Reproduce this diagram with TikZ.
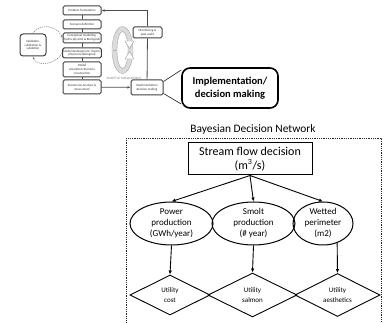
\documentclass[tikz,border=0pt]{standalone}
\usepackage{fontspec}
\setmainfont{Carlito}
\usetikzlibrary{shapes.geometric,arrows.meta,calc}

\begin{document}
\begin{tikzpicture}[x=1pt,y=-1pt,
  fbox/.style={draw=black!75, line width=1pt, rounded corners=1.5pt, fill=white,
    align=center, font=\fontsize{3.2}{3.7}\selectfont, inner sep=0.5pt, text=black!80},
  flink/.style={draw=black!70, line width=0.8pt},
  farrow/.style={flink, -{Latex[length=3pt,width=2.5pt]}},
  dashlink/.style={draw=black!55, line width=0.5pt, dashed, dash pattern=on 1.2pt off 1pt,
    -{Latex[length=2.5pt,width=2pt]}},
  bigbox/.style={draw=black, line width=1.6pt, rounded corners=8pt, align=center,
    font=\fontsize{10.5}{12.5}\selectfont\bfseries},
  netarrow/.style={draw=black, line width=0.9pt, -{Latex[length=4pt,width=3.5pt]}},
  chance/.style={ellipse, draw=black, line width=1pt, align=center, inner sep=0pt,
    font=\fontsize{9}{11}\selectfont},
  utility/.style={diamond, draw=black, line width=0.9pt, align=center, inner sep=0pt,
    font=\fontsize{7}{9.5}\selectfont}]
\useasboundingbox (0,0) rectangle (386,323);

% --- adaptive management cycle ---
\node[fbox, minimum width=38pt, minimum height=9pt]  (prob)     at (82,10.5) {Problem formulation};
\node[fbox, minimum width=38pt, minimum height=9pt]  (scen)     at (82,24.5) {Scenario definition};
\node[fbox, minimum width=38pt, minimum height=10pt] (concept)  at (82,38)   {Conceptual modelling:\\(hydro-physical \& Biological)};
\node[fbox, minimum width=38pt, minimum height=10pt] (modeldev) at (82,53)   {Model development: (hydro-\\physical \& Biological)};
\node[fbox, minimum width=38pt, minimum height=15pt] (modelsim) at (82,69.5) {Model\\simulation/Scenario\\construction};
\node[fbox, minimum width=38pt, minimum height=14pt] (analysis) at (82,87)   {Scenario(s) Analysis \&\\Assessment};
\node[fbox, minimum width=26pt, minimum height=22pt, rounded corners=3pt] (valid) at (33,45) {Validation,\\calibration \&\\validation};
\node[fbox, minimum width=29pt, minimum height=11pt] (monitor)  at (147.5,32.5) {Monitoring \&\\post-audit};
\node[fbox, minimum width=32pt, minimum height=15pt] (impls)    at (147,87.5) {Implementation/\\decision making};

\draw[flink] (prob) -- (scen);
\draw[flink] (scen) -- (concept);
\draw[flink] (concept) -- (modeldev);
\draw[flink] (modeldev) -- (modelsim);
\draw[flink] (modelsim) -- (analysis);
\draw[farrow] (analysis) -- (impls);
\draw[flink] (impls) -- (monitor);
\draw[farrow] (monitor.north) |- (prob.east);

% validation loop
\draw[dashlink] (valid.north) .. controls (38,24) and (56,24) .. (concept.west);
\draw[dashlink] (modeldev.west) .. controls (55,66) and (36,66) .. (valid.south);

% circular arrow of the management loop
\coordinate (ring) at (122.5,50);
\draw[black!14, line width=4.5pt] (ring) ellipse [x radius=8pt, y radius=21pt];
\draw[black!38, line width=0.35pt] (ring) ellipse [x radius=10.5pt, y radius=23.5pt];
\draw[black!38, line width=0.35pt] (ring) ellipse [x radius=5.5pt, y radius=18.5pt];
\draw[black!30, line width=0.3pt] (113,50) -- (117,50);
\fill[white, draw=black!40, line width=0.35pt] (125,41) -- (134,41) -- (129.5,48.5) -- cycle;
\fill[white, draw=black!40, line width=0.35pt] (125,59) -- (134,59) -- (129.5,51.5) -- cycle;
\node[font=\fontsize{3.3}{4}\selectfont, text=black!50] (amlabel) at (124,78.5) {ADAPTIVE MANAGEMENT};

% magnified stage
\node[bigbox, minimum width=96pt, minimum height=40pt] (implb) at (230,88) {Implementation/\\decision making};
\draw[black!80, line width=0.7pt] ($(impls.east)+(0,-6)$) -- ($(implb.west)+(0,-18)$);
\draw[black!80, line width=0.7pt] ($(impls.east)+(0,6)$) -- ($(implb.west)+(0,16)$);

% --- Bayesian decision network ---
\node[font=\fontsize{11.4}{13}\selectfont] (bdntitle) at (253,129.5) {Bayesian Decision Network};
\draw[black!85, line width=0.8pt, dash pattern=on 0.9pt off 0.9pt] (126,138) rectangle (381,330);

\node[draw=black, line width=1pt, minimum width=124pt, minimum height=32pt, inner sep=0pt,
  align=center, font=\fontsize{12}{14}\selectfont] (flow) at (250,159)
  {Stream flow decision\\(m\textsuperscript{3}/s)};

\node[chance, minimum width=83pt, minimum height=43pt] (power)  at (171.5,223.5) {Power\\production\\(GWh/year)};
\node[chance, minimum width=83pt, minimum height=43pt] (smolt)  at (253.5,223.5) {Smolt\\production\\(\# year)};
\node[chance, minimum width=60pt, minimum height=43pt] (wetted) at (323,223.5)   {Wetted\\perimeter\\(m2)};

\node[utility, minimum width=80pt, minimum height=40pt] (ucost)   at (170,295)   {Utility\\cost};
\node[utility, minimum width=89pt, minimum height=44pt] (usalmon) at (252.5,295) {Utility\\salmon};
\node[utility, minimum width=85pt, minimum height=38pt] (uaesth)  at (337.5,295) {Utility\\aesthetics};

\draw[netarrow] (flow.south) -- (power.north);
\draw[netarrow] (flow.south) -- (smolt.north);
\draw[netarrow] (flow.south) -- (wetted.north);

\draw[netarrow] (power.south) -- (ucost.north);
\draw[netarrow] (smolt.south) -- (usalmon.north);
\draw[netarrow] (wetted.-54) -- (uaesth.north);
\end{tikzpicture}
\end{document}
